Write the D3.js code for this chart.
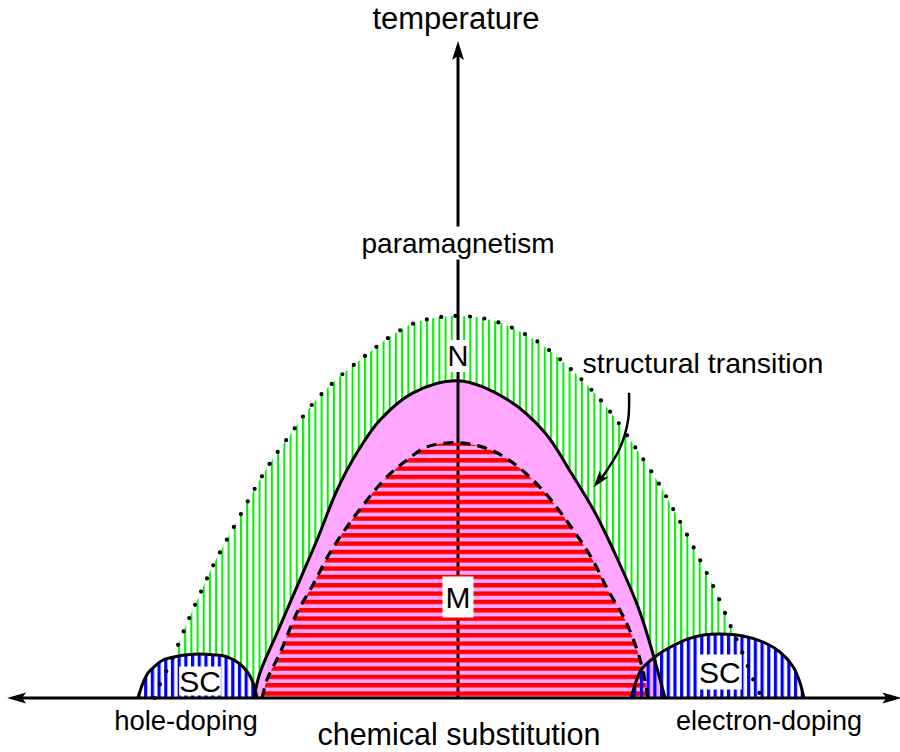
<!DOCTYPE html>
<html><head><meta charset="utf-8">
<script src="https://cdn.jsdelivr.net/npm/d3@7"></script>
<style>html,body{margin:0;padding:0;background:#fff;}svg{display:block;}</style>
</head><body>
<svg id="chart" width="900" height="752"></svg>
<script>
// ---- data (doping d, temperature T) ----
const structuralBoundary = [ // dotted, green hatched region
  [-1.010,0],[-0.993,0.035],[-0.973,0.065],[-0.933,0.133],[-0.897,0.198],[-0.857,0.265],
  [-0.817,0.330],[-0.720,0.465],[-0.670,0.533],[-0.617,0.598],[-0.553,0.665],[-0.490,0.730],
  [-0.410,0.793],[-0.310,0.855],[-0.227,0.903],[-0.143,0.938],[-0.053,0.953],[0,0.955],
  [0.080,0.950],[0.167,0.930],[0.257,0.895],[0.343,0.845],[0.433,0.780],[0.510,0.713],
  [0.603,0.613],[0.660,0.548],[0.760,0.413],[0.807,0.345],[0.857,0.270],[0.907,0.183],
  [0.947,0.115],[0.983,0.048],[1.013,0]
];
const nematicBoundary = [ // solid, pink region N
  [-0.680,0],[-0.660,0.063],[-0.603,0.163],[-0.537,0.278],[-0.470,0.395],[-0.403,0.520],
  [-0.337,0.613],[-0.260,0.695],[-0.150,0.763],[0,0.793],[0.167,0.745],[0.290,0.663],
  [0.377,0.563],[0.457,0.463],[0.533,0.345],[0.600,0.228],[0.643,0.128],[0.690,0]
];
const magneticBoundary = [ // dashed, red hatched region M
  [-0.653,0],[-0.637,0.045],[-0.593,0.113],[-0.537,0.213],[-0.487,0.278],[-0.427,0.363],
  [-0.370,0.428],[-0.303,0.495],[-0.237,0.553],[-0.170,0.595],[-0.103,0.628],[0,0.638],
  [0.110,0.620],[0.200,0.578],[0.290,0.513],[0.367,0.438],[0.443,0.353],[0.500,0.270],
  [0.557,0.195],[0.600,0.113],[0.623,0.045],[0.633,0]
];
const scHoleBoundary = [
  [-1.067,0],[-1.050,0.038],[-1.033,0.063],[-1.010,0.080],[-0.983,0.095],[-0.943,0.103],
  [-0.903,0.108],[-0.860,0.110],[-0.817,0.108],[-0.770,0.103],[-0.727,0.085],[-0.700,0.063],
  [-0.683,0.038],[-0.670,0]
];
const scElectronBoundary = [
  [0.577,0],[0.590,0.033],[0.610,0.070],[0.657,0.103],[0.710,0.128],[0.767,0.148],
  [0.823,0.158],[0.873,0.160],[0.950,0.155],[1.017,0.140],[1.073,0.115],[1.117,0.078],
  [1.140,0.038],[1.153,0]
];
const transitionArrow = [[0.570,0.763],[0.567,0.695],[0.540,0.625],[0.497,0.570],[0.452,0.527]];
const axisRange = {dMin:-1.503, dMax:1.478, tMax:1.6425};
const labels = {
  yAxis:"temperature", xAxis:"chemical substitution", para:"paramagnetism",
  struct:"structural transition", hole:"hole-doping", electron:"electron-doping",
  N:"N", M:"M", SC:"SC"
};

// ---- scales ----
const x = d3.scaleLinear().domain([-1,1]).range([158,758]);
const y = d3.scaleLinear().domain([0,1]).range([698,298]);

const svg = d3.select("#chart");
const FONT = "Arial, 'Liberation Sans', sans-serif";
const defs = svg.append("defs");

function stripes(id, color, dir, period, thick, offset){
  const p = defs.append("pattern").attr("id",id).attr("patternUnits","userSpaceOnUse");
  if(dir==="v"){
    p.attr("x",offset).attr("y",0).attr("width",period).attr("height",10);
    p.append("rect").attr("x",0).attr("y",0).attr("width",thick).attr("height",10).attr("fill",color);
  } else {
    p.attr("x",0).attr("y",offset).attr("width",10).attr("height",period);
    p.append("rect").attr("x",0).attr("y",0).attr("width",10).attr("height",thick).attr("fill",color);
  }
}
stripes("gStripe","#00f000","v",6.2,2.0,x(0)-1);
stripes("bStripe","#0000ff","v",6.7,3.2,x(0)+1);
stripes("rStripe","#ff0000","h",8.33,4.4,y(0.638)+7);

const line = d3.line().x(d=>x(d[0])).y(d=>y(d[1])).curve(d3.curveCatmullRom.alpha(0.5));
const closed = pts => line(pts)+"Z";

const g = svg.append("g");
// green hatched region
g.append("path").attr("d",closed(structuralBoundary)).attr("fill","url(#gStripe)");
// SC white background
[scHoleBoundary, scElectronBoundary].forEach(b=>g.append("path").attr("d",closed(b)).attr("fill","#fff"));
// pink N region
g.append("path").attr("d",closed(nematicBoundary)).attr("fill","#ffa6ff");
// vertical axis
g.append("line").attr("x1",x(0)).attr("x2",x(0)).attr("y1",y(0)).attr("y2",y(axisRange.tMax)+14)
  .attr("stroke","#000").attr("stroke-width",3);
// red hatched M region
g.append("path").attr("d",closed(magneticBoundary)).attr("fill","url(#rStripe)");
// blue hatched SC regions
[scHoleBoundary, scElectronBoundary].forEach(b=>g.append("path").attr("d",closed(b)).attr("fill","url(#bStripe)"));

// outlines
g.append("path").attr("d",line(structuralBoundary)).attr("fill","none").attr("stroke","#000")
  .attr("stroke-width",4.2).attr("stroke-linecap","round").attr("stroke-dasharray","0 14.5");
g.append("path").attr("d",line(nematicBoundary)).attr("fill","none").attr("stroke","#000").attr("stroke-width",3);
g.append("path").attr("d",line(magneticBoundary)).attr("fill","none").attr("stroke","#000")
  .attr("stroke-width",3.2).attr("stroke-dasharray","10 7");
[scHoleBoundary, scElectronBoundary].forEach(b=>g.append("path").attr("d",line(b)).attr("fill","none")
  .attr("stroke","#000").attr("stroke-width",3));

// horizontal axis with arrowheads
const y0 = y(0), xl = x(axisRange.dMin), xr = x(axisRange.dMax), yt = y(axisRange.tMax);
g.append("line").attr("x1",xl+10).attr("x2",xr-10).attr("y1",y0).attr("y2",y0).attr("stroke","#000").attr("stroke-width",3);
g.append("path").attr("d",`M${xl},${y0} L${xl+19},${y0-5.5} L${xl+15},${y0} L${xl+19},${y0+5.5} Z`).attr("fill","#000");
g.append("path").attr("d",`M${xr},${y0} L${xr-19},${y0-5.5} L${xr-15},${y0} L${xr-19},${y0+5.5} Z`).attr("fill","#000");
g.append("path").attr("d",`M${x(0)},${yt} L${x(0)-6},${yt+19} L${x(0)},${yt+15} L${x(0)+6},${yt+19} Z`).attr("fill","#000");

// curved arrow (structural transition)
g.append("path").attr("d",line(transitionArrow.slice(0,-1).concat([[0.468,0.540]]))).attr("fill","none")
  .attr("stroke","#000").attr("stroke-width",2.4);
{
  const tip = transitionArrow[transitionArrow.length-1], prev = transitionArrow[transitionArrow.length-2];
  const tx=x(tip[0]), ty=y(tip[1]), px=x(prev[0]), py=y(prev[1]);
  const ang = Math.atan2(ty-py, tx-px), L=17, W=5.5;
  const bx = tx - L*Math.cos(ang), by = ty - L*Math.sin(ang);
  const nx = -Math.sin(ang), ny = Math.cos(ang);
  const mx = tx - 0.75*L*Math.cos(ang), my = ty - 0.75*L*Math.sin(ang);
  g.append("path").attr("d",`M${tx},${ty} L${bx+nx*W},${by+ny*W} L${mx},${my} L${bx-nx*W},${by-ny*W} Z`).attr("fill","#000");
}

// labels
function boxLabel(text, cx, cy, size, padX, padY){
  const t = svg.append("text").attr("x",cx).attr("y",cy).attr("text-anchor","middle")
    .attr("dominant-baseline","central").attr("font-family",FONT).attr("font-size",size).attr("fill","#000").text(text);
  const bb = t.node().getBBox();
  svg.insert("rect", () => t.node()).attr("x",bb.x-padX).attr("y",bb.y-padY)
    .attr("width",bb.width+2*padX).attr("height",bb.height+2*padY).attr("fill","#fff");
}
boxLabel(labels.para, x(0), 243, 28, 2, 1);
boxLabel(labels.N, x(0), 356, 29, 0, 0);
boxLabel(labels.M, x(0), 597, 30, 3, 4);
boxLabel(labels.SC, x(-0.860), 681, 30, 0, -2);
boxLabel(labels.SC, x(0.873), 672, 30, 1, 1);

function plain(text, cx, base, size, anchor){
  svg.append("text").attr("x",cx).attr("y",base).attr("text-anchor",anchor||"middle")
    .attr("font-family",FONT).attr("font-size",size).attr("fill","#000").text(text);
}
plain(labels.yAxis, 456, 29, 31);
plain(labels.struct, 703, 373, 28.5);
plain(labels.hole, 186, 730, 27.5);
plain(labels.electron, 769, 730, 27);
plain(labels.xAxis, 459, 745, 30.5);
</script>
</body></html>
